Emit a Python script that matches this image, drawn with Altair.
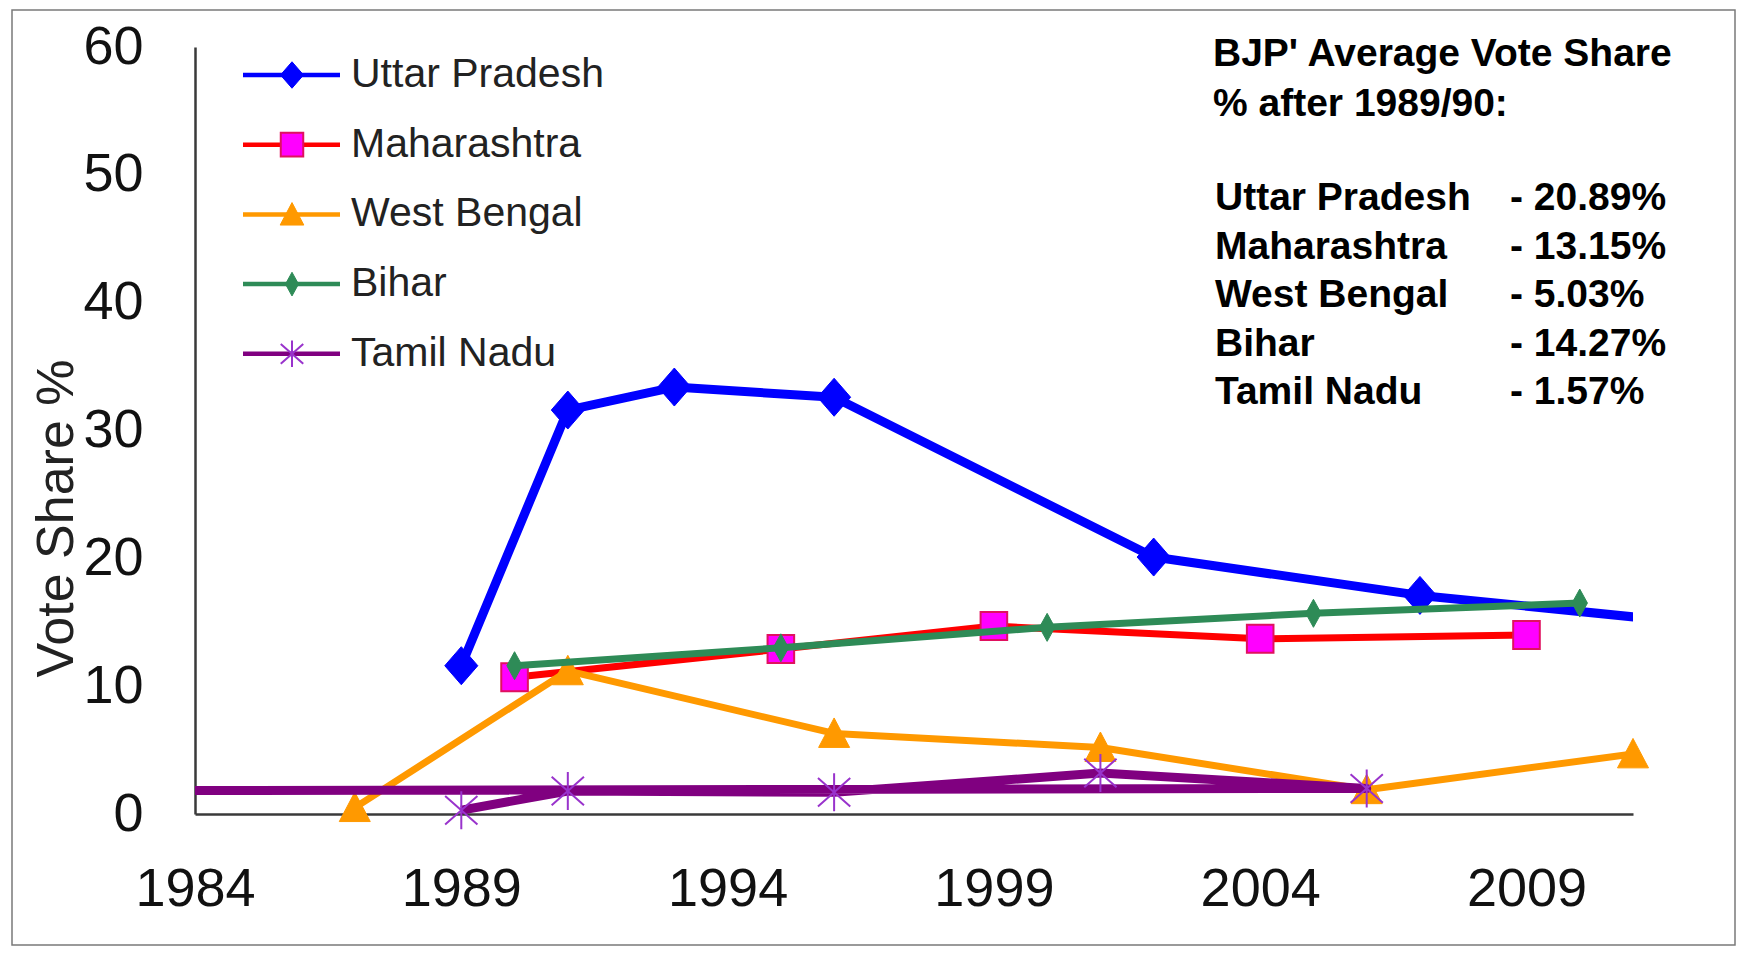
import altair as alt
import pandas as pd

# ---------------- data ----------------
series = ["Uttar Pradesh", "Maharashtra", "West Bengal", "Bihar", "Tamil Nadu"]

up_years = [1989, 1991, 1993, 1996, 2002, 2007, 2012]
up_vals = [11.6, 31.6, 33.4, 32.6, 20.1, 17.1, 15.0]

mh_years = [1990, 1995, 1999, 2004, 2009]
mh_vals = [10.7, 12.9, 14.7, 13.7, 14.0]

wb_years = [1987, 1991, 1996, 2001, 2006, 2011]
wb_vals = [0.5, 11.2, 6.3, 5.2, 1.9, 4.7]

bh_years = [1990, 1995, 2000, 2005, 2010]
bh_vals = [11.6, 13.0, 14.6, 15.7, 16.5]

# the series is drawn in this order (last point lies before the axis start)
tn_years = [1989, 1991, 1996, 2001, 2006, 1980]
tn_vals = [0.3, 1.8, 1.7, 3.2, 2.0, 1.8]

x_ticks = [1984, 1989, 1994, 1999, 2004, 2009]
y_ticks = [0, 10, 20, 30, 40, 50, 60]

note_header = ["BJP' Average Vote Share", "% after 1989/90:"]
note_names = ["Uttar Pradesh", "Maharashtra", "West Bengal", "Bihar", "Tamil Nadu"]
note_vals = ["-  20.89%", "-  13.15%", "-  5.03%", "-  14.27%", "-  1.57%"]

rows = []
for name, yrs, vals in [
    ("Uttar Pradesh", up_years, up_vals),
    ("Maharashtra", mh_years, mh_vals),
    ("West Bengal", wb_years, wb_vals),
    ("Bihar", bh_years, bh_vals),
    ("Tamil Nadu", tn_years, tn_vals),
]:
    for i, (yy, vv) in enumerate(zip(yrs, vals)):
        rows.append({"series": name, "year": yy, "value": vv, "seq": i})
df = pd.DataFrame(rows)

# ---------------- styles ----------------
FONT = "Liberation Sans"
wide_diamond = "M0,-1L0.87,0L0,1L-0.87,0Z"
slim_diamond = "M0,-1L0.55,0L0,1L-0.55,0Z"
square = "M-0.95,-1L0.95,-1L0.95,1L-0.95,1Z"
triangle = "M0,-1L1,0.9L-1,0.9Z"
asterisk = "M0,-1L0,1M-0.85,-0.75L0.85,0.75M-0.85,0.75L0.85,-0.75"

styles = {
    "Uttar Pradesh": dict(line="#0000FF", shape=wide_diamond, fill="#0000FF", stroke="#0000FF", sw=1, size=1444, lw=9, lsize=700),
    "Maharashtra": dict(line="#FF0000", shape=square, fill="#FF00FF", stroke="#E0115F", sw=2, size=784, lw=7, lsize=560),
    "West Bengal": dict(line="#FF9900", shape=triangle, fill="#FF9900", stroke="#FF9900", sw=1, size=961, lw=7, lsize=560),
    "Bihar": dict(line="#2E8B57", shape=slim_diamond, fill="#2E8B57", stroke="#2E8B57", sw=1, size=784, lw=7, lsize=560),
    "Tamil Nadu": dict(line="#800080", shape=asterisk, fill=None, stroke="#9933CC", sw=2, size=1444, lw=9, lsize=700),
}

X = alt.X(
    "year:Q",
    scale=alt.Scale(domain=[1984, 2011], nice=False, zero=False),
    axis=alt.Axis(values=x_ticks, format="d", title=None, labelPadding=48, labelFlush=False),
)
Y = alt.Y(
    "value:Q",
    scale=alt.Scale(domain=[0, 60], nice=False),
    axis=alt.Axis(
        values=y_ticks,
        title="Vote Share %",
        labelPadding=52,
        labelFlush=False,
        titleX=-139,
        titleY=471,
        titleAlign="center",
        titleBaseline="middle",
        titleFontSize=52,
        titleFontWeight="normal",
        titleFont=FONT,
        titleColor="#222222",
    ),
)

layers = []

# frame around the whole figure
frame = alt.Chart(pd.DataFrame({"k": [0]})).mark_rect(
    fillOpacity=0, stroke="#7a7a7a", strokeWidth=1.5
).encode(x=alt.value(-183), x2=alt.value(1540), y=alt.value(-37), y2=alt.value(898))
layers.append(frame)

base = alt.Chart(df)
for name in series:
    st = styles[name]
    line = base.transform_filter(alt.datum.series == name).mark_line(
        color=st["line"], strokeWidth=st["lw"], clip=True, strokeJoin="round"
    ).encode(x=X, y=Y, order="seq:Q")
    layers.append(line)
    pkw = dict(shape=st["shape"], size=st["size"], stroke=st["stroke"], strokeWidth=st["sw"], opacity=1)
    if st["fill"] is None:
        pkw["filled"] = False
    else:
        pkw["filled"] = True
        pkw["fill"] = st["fill"]
    pts = base.transform_filter(
        (alt.datum.series == name) & (alt.datum.year >= 1984) & (alt.datum.year <= 2011)
    ).mark_point(**pkw).encode(x=X, y=Y)
    layers.append(pts)

# ---------------- manual legend (line + marker) ----------------
for i, name in enumerate(series):
    st = styles[name]
    ly = 28 + i * 69.7
    ldf = pd.DataFrame({"series": [name]})
    lc = alt.Chart(ldf)
    layers.append(
        lc.mark_rule(color=st["line"], strokeWidth=4.5).encode(
            x=alt.value(48), x2=alt.value(145), y=alt.value(ly)
        )
    )
    pkw = dict(shape=st["shape"], size=st["lsize"], stroke=st["stroke"], strokeWidth=st["sw"], opacity=1)
    if st["fill"] is None:
        pkw["filled"] = False
    else:
        pkw["filled"] = True
        pkw["fill"] = st["fill"]
    layers.append(lc.mark_point(**pkw).encode(x=alt.value(97), y=alt.value(ly)))
    layers.append(
        lc.mark_text(align="left", baseline="middle", font=FONT, fontSize=41, color="#222222").encode(
            x=alt.value(156), y=alt.value(ly), text="series:N"
        )
    )

# ---------------- annotation block ----------------
hdr = pd.DataFrame({"t": note_header, "i": list(range(len(note_header)))})
layers.append(
    alt.Chart(hdr)
    .transform_calculate(py="7 + datum.i * 50")
    .mark_text(align="left", baseline="middle", font=FONT, fontSize=39, fontWeight="bold", color="#000000")
    .encode(x=alt.value(1018), y=alt.Y("py:Q", scale=None), text="t:N")
)
notes = pd.DataFrame({"n": note_names, "v": note_vals, "i": list(range(len(note_names)))})
nb = alt.Chart(notes).transform_calculate(py="151 + datum.i * 48.5")
layers.append(
    nb.mark_text(align="left", baseline="middle", font=FONT, fontSize=39, fontWeight="bold", color="#000000")
    .encode(x=alt.value(1020), y=alt.Y("py:Q", scale=None), text="n:N")
)
layers.append(
    nb.mark_text(align="left", baseline="middle", font=FONT, fontSize=39, fontWeight="bold", color="#000000")
    .encode(x=alt.value(1315), y=alt.Y("py:Q", scale=None), text="v:N")
)

chart = (
    alt.layer(*layers)
    .properties(
        width=1438,
        height=767,
        autosize=alt.AutoSizeParams(type="none"),
        padding={"left": 187, "top": 39, "right": 105, "bottom": 134},
        background="white",
    )
    .configure_view(stroke=None)
    .configure_axis(
        grid=False,
        ticks=False,
        tickSize=0,
        domainColor="#3a3a3a",
        domainWidth=2.5,
        labelFont=FONT,
        labelFontSize=54,
        labelColor="#111111",
    )
)

chart.save("out.html", embed_options={"renderer": "svg", "actions": False})
